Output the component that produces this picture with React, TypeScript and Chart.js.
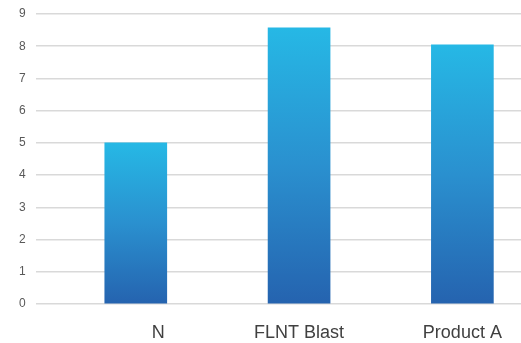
import React, { useEffect, useRef } from "react";
import { Chart, registerables } from "chart.js";

Chart.register(...registerables);

const categories = ["         N", "FLNT Blast", "Product A"];
const values = [5, 8.57, 8.04];
const yTicks = [0, 1, 2, 3, 4, 5, 6, 7, 8, 9];

export default function App() {
  const ref = useRef<HTMLCanvasElement | null>(null);
  useEffect(() => {
    document.body.style.margin = "0";
    const canvas = ref.current!;
    const chart = new Chart(canvas, {
      type: "bar",
      data: {
        datasets: [
          {
            data: values.map((v, i) => ({ x: i, y: v })),
            barThickness: 62,
            borderWidth: 0,
            backgroundColor: (ctx: any) => {
              const c = ctx.chart;
              const ys = c.scales && c.scales.y;
              if (!c.chartArea || !ys || !ctx.raw) return "#2b8ccb";
              const top = ys.getPixelForValue(ctx.raw.y);
              const bot = ys.getPixelForValue(0);
              if (!isFinite(top) || !isFinite(bot) || top === bot) return "#2b8ccb";
              const g = c.ctx.createLinearGradient(0, top, 0, bot);
              g.addColorStop(0, "#26b8e5");
              g.addColorStop(0.5, "#2a90cf");
              g.addColorStop(1, "#2563af");
              return g;
            },
          },
        ],
      },
      options: {
        animation: false,
        responsive: false,
        maintainAspectRatio: false,
        layout: { padding: { top: 14, left: 9, right: 0, bottom: 0 } },
        plugins: { legend: { display: false }, tooltip: { enabled: false } },
        scales: {
          x: {
            type: "linear",
            offset: false,
            min: -0.613,
            max: 2.359,
            grid: { display: false, drawTicks: false, offset: false },
            border: { display: false },
            afterBuildTicks: (scale: any) => {
              scale.ticks = categories.map((_, i) => ({ value: i }));
            },
            afterFit: (scale: any) => {
              scale.height = 39;
            },
            ticks: {
              autoSkip: false,
              maxRotation: 0,
              padding: 18,
              color: "#404040",
              font: { family: "'Liberation Sans', Arial, sans-serif", size: 18 },
              callback: (v: any) => categories[v as number],
            },
          },
          y: {
            min: 0,
            max: 9,
            afterBuildTicks: (scale: any) => {
              scale.ticks = yTicks.map((v) => ({ value: v }));
            },
            afterFit: (scale: any) => {
              scale.paddingTop = 0;
              scale.paddingBottom = 0;
            },
            grid: { color: "#d9d9d9", lineWidth: 1.5, drawTicks: false },
            border: { display: false },
            ticks: {
              padding: 10,
              color: "#595959",
              font: { family: "'Liberation Sans', Arial, sans-serif", size: 12 },
            },
          },
        },
      },
    });
    return () => chart.destroy();
  }, []);
  return <canvas ref={ref} width={521} height={343} style={{ display: "block" }} />;
}
